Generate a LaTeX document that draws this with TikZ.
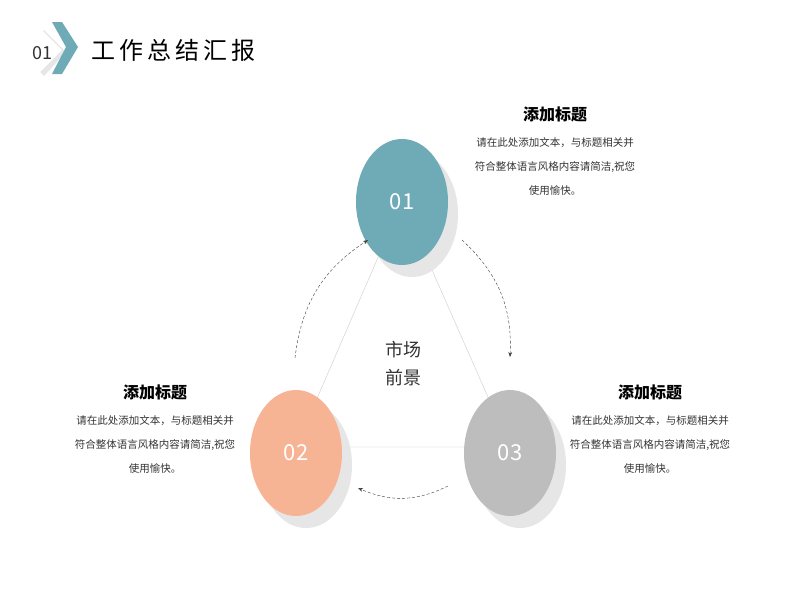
\documentclass[tikz,border=0pt]{standalone}
\usepackage{fontspec}
\setmainfont{Noto Sans CJK SC}
\usetikzlibrary{arrows.meta}
\definecolor{tealc}{HTML}{6FAAB7}
\definecolor{peachc}{HTML}{F7B495}
\definecolor{grayc}{HTML}{BDBDBD}
\definecolor{shadowc}{HTML}{E6E6E6}
\definecolor{textc}{HTML}{333333}
\tikzset{
  ball/.style={ellipse, minimum width=92pt, minimum height=126pt, text=white, font=\fontsize{22}{24}\selectfont},
  shade/.style={ellipse, minimum width=92pt, minimum height=126pt, fill=shadowc},
  headline/.style={font=\bfseries\fontsize{16}{18}\selectfont, text=black},
  bodytext/.style={font=\fontsize{10.5}{24}\selectfont, text=textc, align=center},
  flow/.style={densely dashed, thin, black!75, -{Stealth[length=5pt]}}
}
\usetikzlibrary{shapes.geometric}
\begin{document}
\begin{tikzpicture}[x=1pt, y=-1pt]
    \useasboundingbox[fill=white] (0,0) rectangle (800,600);
    % header
    \fill[shadowc] (44,30) -- (66,52) -- (44,76) -- (22,52) -- cycle;
    \fill[white] (40,28) -- (62,50) -- (40,72) -- (18,50) -- cycle;
    \fill[tealc] (52,22) -- (62,22) -- (78,47) -- (62,74) -- (52,74) -- (66,47) -- cycle;
    \node[font=\fontsize{18}{20}\selectfont, text=textc] (num) at (42,53) {01};
    \node[font=\fontsize{24}{26}\selectfont, anchor=west] (title) at (88,50) {工\,作\,总\,结\,汇\,报};

    % triangle
    \coordinate (p1) at (402,202);
    \coordinate (p2) at (296,447);
    \coordinate (p3) at (510,447);
    \draw[black!20, thin] (p1) -- (p2) -- (p3) -- cycle;

    % circles
    \node[shade] (s1) at (412,214) {};
    \node[shade] (s2) at (306,465) {};
    \node[shade] (s3) at (520,465) {};
    \node[ball, fill=tealc] (c1) at (402,202) {01};
    \node[ball, fill=peachc] (c2) at (296,453) {02};
    \node[ball, fill=grayc] (c3) at (510,453) {03};

    \node[font=\fontsize{18}{28}\selectfont, text=textc, align=center] (mid) at (403,364) {市场\\前景};

    % arrows
    \coordinate (a1) at (295,358);
    \coordinate (a2) at (368,240);
    \coordinate (b1) at (462,240);
    \coordinate (b2) at (510,357);
    \coordinate (d1) at (448,486);
    \coordinate (d2) at (358,488);
    \draw[flow] (a1) to[bend left=25] (a2);
    \draw[flow] (b1) to[bend left=25] (b2);
    \draw[flow] (d1) to[bend left=25] (d2);

    % texts
    \node[headline] (h1) at (555,114) {添加标题};
    \node[bodytext] (t1) at (555,166) {请在此处添加文本，与标题相关并\\符合整体语言风格内容请简洁,祝您\\使用愉快。};
    \node[headline] (h2) at (155,392) {添加标题};
    \node[bodytext] (t2) at (155,444) {请在此处添加文本，与标题相关并\\符合整体语言风格内容请简洁,祝您\\使用愉快。};
    \node[headline] (h3) at (650,392) {添加标题};
    \node[bodytext] (t3) at (650,444) {请在此处添加文本，与标题相关并\\符合整体语言风格内容请简洁,祝您\\使用愉快。};
\end{tikzpicture}
\end{document}
